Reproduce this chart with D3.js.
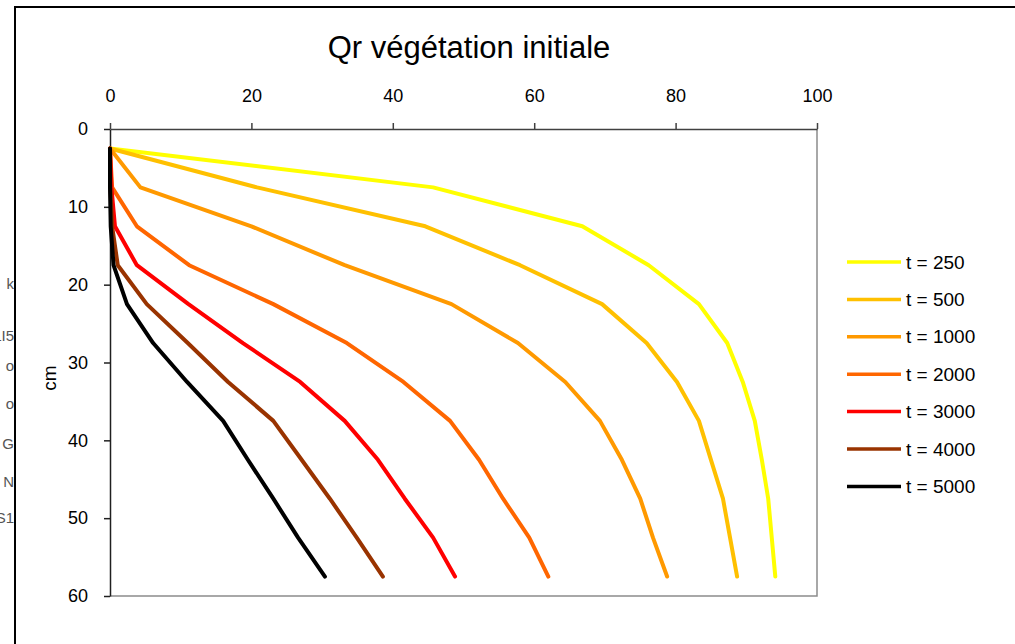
<!DOCTYPE html>
<html>
<head>
<meta charset="utf-8">
<script src="https://cdn.jsdelivr.net/npm/d3@7"></script>
<style>
body { margin: 0; background: #fff; }
svg { display: block; font-family: "Liberation Sans", Arial, sans-serif; }
</style>
</head>
<body>
<div id="chart"></div>
<script>
// Depths (cm) and Qr values for each time step
const depths = [2.5, 7.5, 12.5, 17.5, 22.5, 27.5, 32.5, 37.5, 42.5, 47.5, 52.5, 57.5];
const q250  = [0, 45.7, 66.8, 76.2, 83.3, 87.3, 89.5, 91.2, 92.2, 93.1, 93.6, 94.1];
const q500  = [0, 20.8, 44.6, 58.0, 69.6, 75.9, 80.2, 83.3, 85.0, 86.7, 87.7, 88.7];
const q1000 = [0, 4.3, 20.0, 33.2, 48.3, 57.7, 64.4, 69.3, 72.4, 75.0, 76.8, 78.8];
const q2000 = [0, 0.3, 3.8, 11.2, 23.1, 33.5, 41.5, 48.1, 52.2, 55.6, 59.3, 62.0];
const q3000 = [0, 0.2, 0.7, 3.8, 11.1, 18.8, 26.9, 33.2, 37.9, 41.7, 45.7, 48.8];
const q4000 = [0, 0.05, 0.3, 1.1, 5.2, 11.0, 16.7, 23.1, 27.1, 31.1, 34.9, 38.6];
const q5000 = [0, 0, 0.1, 0.5, 2.4, 6.1, 10.9, 16.0, 19.5, 23.1, 26.6, 30.4];

const seriesNames = ["t = 250", "t = 500", "t = 1000", "t = 2000", "t = 3000", "t = 4000", "t = 5000"];
const seriesValues = [q250, q500, q1000, q2000, q3000, q4000, q5000];
const seriesColors = ["#FFFF00", "#FFC000", "#FF9900", "#FF6600", "#FF0000", "#993300", "#000000"];

const xTicks = [0, 20, 40, 60, 80, 100];
const yTicks = [0, 10, 20, 30, 40, 50, 60];

// clipped legend text of a neighbouring chart, visible at the left edge
const sideLabels = ["k", "LI5", "o", "o", "G", "N", "S1"];
const sideLabelY = [284, 336, 366, 404, 444, 482, 518];

const w = 1015, h = 644;
const svg = d3.select("#chart").append("svg")
    .attr("width", w)
    .attr("height", h);

// chart frame (only top and left edges fall inside the picture)
svg.append("path")
    .attr("d", "M15," + h + "V7H" + w)
    .attr("fill", "none")
    .attr("stroke", "#000")
    .attr("stroke-width", 2);

svg.append("g")
    .selectAll("text")
    .data(sideLabels)
    .join("text")
        .attr("x", 14)
        .attr("y", (d, i) => sideLabelY[i])
        .attr("dy", "0.35em")
        .attr("text-anchor", "end")
        .attr("font-size", 15)
        .attr("fill", "#555")
        .text(d => d);

// Scales
const xScale = d3.scaleLinear().domain([0, 100]).range([110, 817]);
const yScale = d3.scaleLinear().domain([0, 60]).range([129, 596]);

// plot area border (right and bottom)
svg.append("path")
    .attr("d", "M" + xScale(100) + "," + yScale(0) + "V" + yScale(60) + "H" + xScale(0))
    .attr("fill", "none")
    .attr("stroke", "#8c8c8c")
    .attr("stroke-width", 1.5);

// Top x axis
const xAxis = d3.axisTop(xScale)
    .tickValues(xTicks)
    .tickSize(6)
    .tickSizeOuter(0)
    .tickPadding(21);

const gx = svg.append("g")
    .attr("transform", "translate(0," + yScale(0) + ")")
    .call(xAxis);
gx.selectAll("text").attr("font-size", 18).attr("fill", "#000");
gx.selectAll("line, path").attr("stroke", "#404040").attr("stroke-width", 1.5);

// Left y axis
const yAxis = d3.axisLeft(yScale)
    .tickValues(yTicks)
    .tickSize(6)
    .tickSizeOuter(0)
    .tickPadding(16);

const gy = svg.append("g")
    .attr("transform", "translate(" + xScale(0) + ",0)")
    .call(yAxis);
gy.selectAll("text").attr("font-size", 18).attr("fill", "#000");
gy.selectAll("line, path").attr("stroke", "#202020").attr("stroke-width", 1.5);

// Lines
const line = d3.line()
    .x(d => xScale(d.q))
    .y(d => yScale(d.depth));

svg.append("g")
    .selectAll("path")
    .data(seriesValues)
    .join("path")
        .attr("fill", "none")
        .attr("stroke", (d, i) => seriesColors[i])
        .attr("stroke-width", 4)
        .attr("stroke-linejoin", "round")
        .attr("stroke-linecap", "round")
        .attr("d", vals => line(vals.map((q, j) => ({ q: q, depth: depths[j] }))));

// Title
svg.append("text")
    .attr("x", 469)
    .attr("y", 58)
    .attr("text-anchor", "middle")
    .attr("font-size", 31)
    .text("Qr végétation initiale");

// y axis label
svg.append("text")
    .attr("transform", "translate(56,378) rotate(-90)")
    .attr("text-anchor", "middle")
    .attr("font-size", 19)
    .text("cm");

// Legend
const legend = svg.append("g")
    .selectAll("g")
    .data(seriesNames)
    .join("g")
        .attr("transform", (d, i) => "translate(847," + (262 + i * 37.4) + ")");

legend.append("line")
    .attr("x1", 0)
    .attr("x2", 54)
    .attr("stroke", (d, i) => seriesColors[i])
    .attr("stroke-width", 3.5);

legend.append("text")
    .attr("x", 59)
    .attr("dy", "0.35em")
    .attr("font-size", 19)
    .text(d => d);
</script>
</body>
</html>
